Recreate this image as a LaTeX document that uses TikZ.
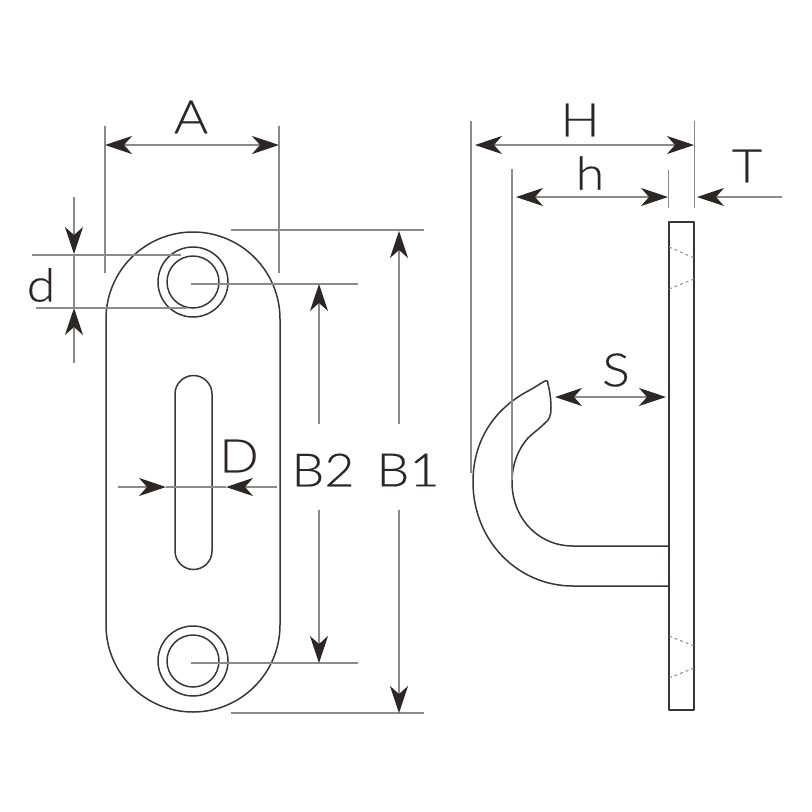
\documentclass[tikz,border=0pt]{standalone}
\usepackage{xcolor}
\usepackage{fontspec}
\setmainfont[FakeStretch=1.13,FakeBold=0.25]{Lato Light}
\usetikzlibrary{arrows.meta}
\definecolor{outline}{HTML}{3A3636}
\definecolor{dimline}{HTML}{8C8A8A}
\definecolor{tipdark}{HTML}{2B2726}
\tikzset{
  part/.style = {draw=outline, line width=1.5pt, line join=round},
  hidden/.style = {draw=dimline, line width=1pt, dash pattern=on 3pt off 3pt},
  dimline/.style = {draw=dimline, line width=1.3pt},
  dimarrow/.style = {dimline, -{Stealth[length=27pt,width=18pt,inset=8pt,color=tipdark,fill=tipdark]}},
  dimtwo/.style = {dimline, {Stealth[length=27pt,width=18pt,inset=8pt,color=tipdark,fill=tipdark]}-{Stealth[length=27pt,width=18pt,inset=8pt,color=tipdark,fill=tipdark]}},
  dimlabel/.style = {inner sep=0pt, text=tipdark, font=\fontsize{46}{46}\selectfont}
}
\begin{document}
\begin{tikzpicture}[x=1pt,y=-1pt]
\useasboundingbox (0,0) rectangle (812,812);
% plate, front view
\draw [part] (106,319) arc[start angle=180,end angle=360,radius=87] -- (280,625)
  arc[start angle=0,end angle=180,radius=87] -- cycle;
\draw [part] (175,394) arc[start angle=180,end angle=360,radius=18.5] -- (212,551)
  arc[start angle=0,end angle=180,radius=18.5] -- cycle;
\foreach \cy/\nm in {282/top,661/bot} {
  \draw [part] (193,\cy) circle (35);
  \draw [part] (193,\cy) circle (26);
  \coordinate (hole\nm) at (191,\cy+2);
  \coordinate (holeend\nm) at (358,\cy+2);
  \draw [dimline] (hole\nm) -- (holeend\nm);
}
% plate, side view
\draw [part] (669,222) rectangle (694,710);
\draw [hidden] (669,247) -- (694,258);
\draw [hidden] (694,279) -- (669,289);
\draw [hidden] (669,636) -- (694,646);
\draw [hidden] (694,668) -- (669,678);
% hook
\draw [part] (669,586) -- (573,586)
  .. controls (518,586) and (473,541) .. (473,482)
  .. controls (473,444) and (491,410) .. (530,390)
  .. controls (537,386) and (541,383) .. (545,381)
  .. controls (548,380) and (548,382) .. (548,384)
  .. controls (550,392) and (551,400) .. (551,408)
  .. controls (551,416) and (549,420) .. (545,423)
  .. controls (539,429) and (533,433) .. (528,438)
  .. controls (518,449) and (512,465) .. (512,482)
  .. controls (512,518) and (538,546) .. (573,546) -- (668,546);
% A
\coordinate (aL) at (105,145);
\coordinate (aR) at (279,145);
\draw [dimline] (105,126) -- (105,273);
\draw [dimline] (279,126) -- (279,273);
\draw [dimtwo] (aL) -- (aR);
\node [dimlabel] (labA) at (191,117) {A};
% d
\coordinate (dA) at (74,197);
\coordinate (dB) at (74,254);
\coordinate (dC) at (74,308);
\coordinate (dD) at (74,363);
\draw [dimline] (32,255) -- (181,255);
\draw [dimline] (36,308) -- (187,308);
\draw [dimline] (dB) -- (dC);
\draw [dimarrow] (dA) -- (dB);
\draw [dimarrow] (dD) -- (dC);
\node [dimlabel] (labd) at (41,285) {d};
% D
\coordinate (slotL) at (166,487);
\coordinate (slotR) at (226,487);
\draw [dimline] (slotL) -- (slotR);
\draw [dimarrow] (118,487) -- (slotL);
\draw [dimarrow] (277,487) -- (slotR);
\node [dimlabel] (labD) at (239,456) {D};
% B2
\coordinate (btwoT) at (319,284);
\coordinate (btwoB) at (319,663);
\draw [dimarrow] (319,424) -- (btwoT);
\draw [dimarrow] (319,510) -- (btwoB);
\node [dimlabel] (labBtwo) at (323,470) {B2};
% B1
\coordinate (boneT) at (399,231);
\coordinate (boneB) at (399,713);
\draw [dimline] (231,230) -- (424,230);
\draw [dimline] (231,713) -- (424,713);
\draw [dimarrow] (399,424) -- (boneT);
\draw [dimarrow] (399,510) -- (boneB);
\node [dimlabel] (labBone) at (408,470) {B1};
% H
\coordinate (hL) at (475,145);
\coordinate (hR) at (694,145);
\draw [dimline] (471,121) -- (471,473);
\draw [dimline] (694.5,121) -- (694.5,208);
\draw [dimtwo] (hL) -- (hR);
\node [dimlabel] (labH) at (580,120) {H};
% h
\coordinate (sL) at (516,197);
\coordinate (sR) at (668,197);
\draw [dimline] (512,169) -- (512,480);
\draw [dimline] (668.5,170) -- (668.5,208);
\draw [dimtwo] (sL) -- (sR);
\node [dimlabel] (labh) at (590,173) {h};
% T
\coordinate (tR) at (782,197);
\coordinate (tL) at (697,197);
\draw [dimarrow] (tR) -- (tL);
\node [dimlabel] (labT) at (747,166) {T};
% S
\coordinate (gapL) at (555,397);
\coordinate (gapR) at (666,397);
\draw [dimtwo] (gapL) -- (gapR);
\node [dimlabel] (labS) at (616,370) {S};
\end{tikzpicture}
\end{document}
